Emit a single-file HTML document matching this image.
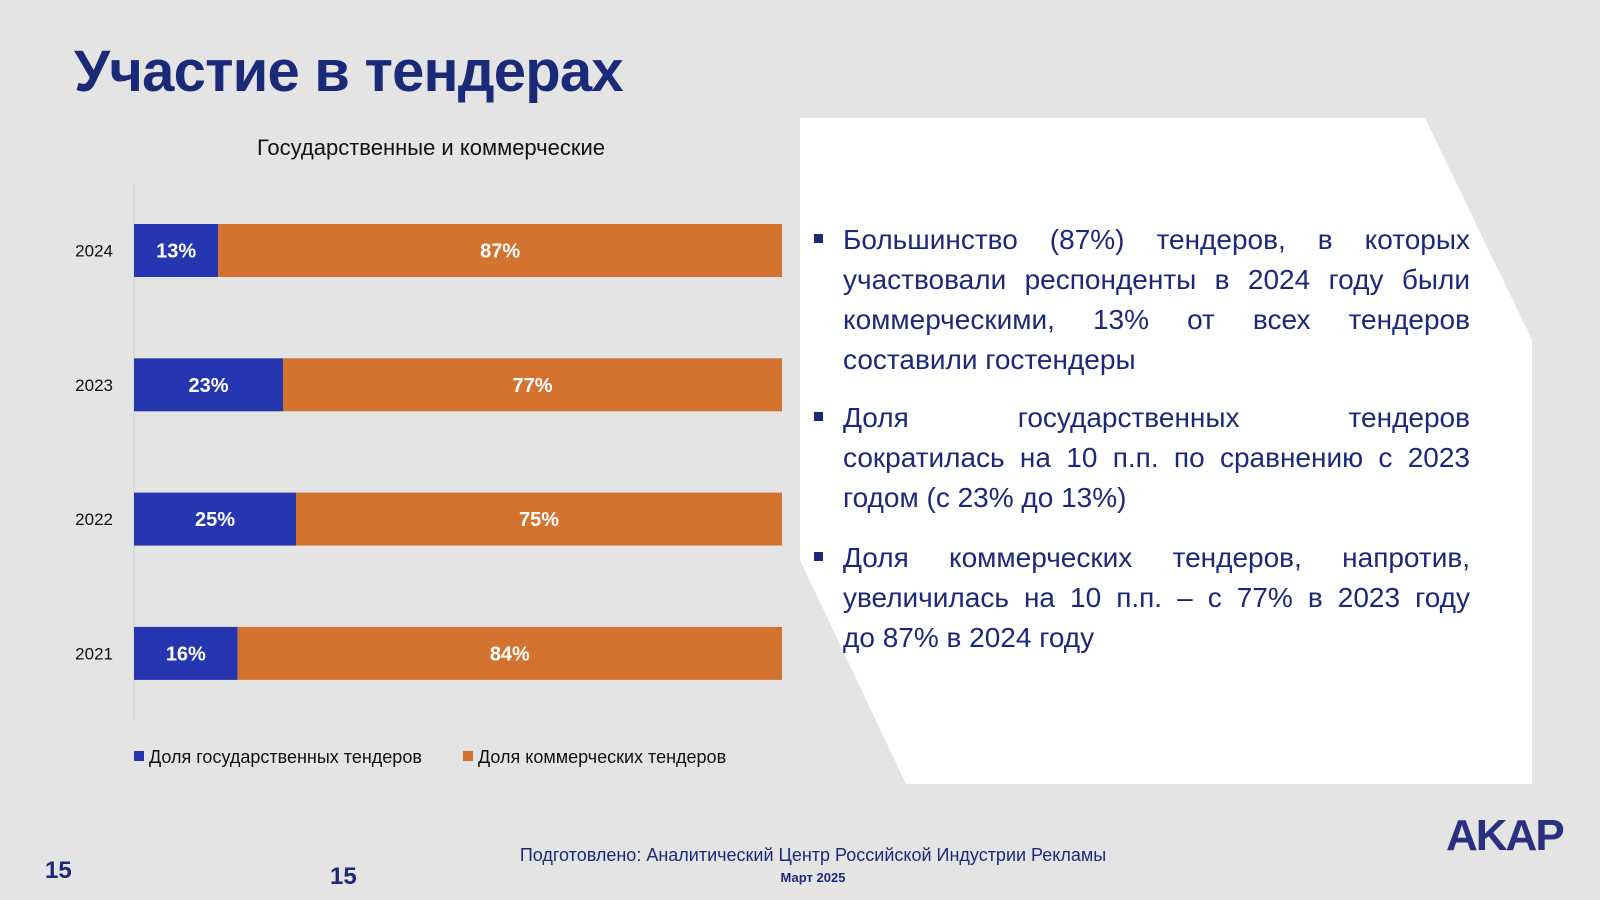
<!DOCTYPE html>
<html><head><meta charset="utf-8"><style>
body{margin:0;width:1600px;height:900px;background:#e4e4e4;position:relative;overflow:hidden;font-family:"Liberation Sans",sans-serif}
.abs{position:absolute}
#title{left:74px;top:38px;font-size:58px;font-weight:bold;color:#1b2a78;letter-spacing:-0.8px}
.line{display:block;text-align:justify;text-align-last:justify;white-space:nowrap}
.last{text-align-last:left}
.bul{position:absolute;left:843px;width:627px;font-size:28px;line-height:40px;color:#1b2a78}
.sq{position:absolute;left:-29px;top:14px;width:9px;height:9px;background:#1b2a78}
</style></head><body>
<div class="abs" id="title">Участие в тендерах</div>
<svg class="abs" style="left:0;top:0" width="1600" height="900">
<polygon points="800,118 1425,118 1532,340 1532,784 906,784 800,560" fill="#fff"/>
<text x="431" y="155" text-anchor="middle" font-size="22" fill="#111">Государственные и коммерческие</text>
<line x1="134" y1="184" x2="134" y2="720" stroke="#cfcfcf"/>
<g id="bars"></g>
<rect x="134" y="751" width="10" height="10" fill="#2636b0"/>
<text x="149" y="763" font-size="18" fill="#111">Доля государственных тендеров</text>
<rect x="463" y="751" width="10" height="10" fill="#d4722f"/>
<text x="478" y="763" font-size="18" fill="#111">Доля коммерческих тендеров</text>
<text x="813" y="861" text-anchor="middle" font-size="18" fill="#1b2a78">Подготовлено: Аналитический Центр Российской Индустрии Рекламы</text>
<text x="813" y="882" text-anchor="middle" font-size="13" font-weight="bold" fill="#1b2a78">Март 2025</text>
<text x="45" y="878" font-size="24" font-weight="bold" fill="#1b2a78">15</text>
<text x="330" y="884" font-size="24" font-weight="bold" fill="#1b2a78">15</text>
<text x="1446" y="850" font-size="44" font-weight="bold" fill="#2a3080" letter-spacing="-2">AKAP</text>
</svg>
<div class="bul" style="top:220px"><span class="sq"></span>
<span class="line">Большинство (87%) тендеров, в которых</span>
<span class="line">участвовали респонденты в 2024 году были</span>
<span class="line">коммерческими, 13% от всех тендеров</span>
<span class="line last">составили гостендеры</span></div>
<div class="bul" style="top:398px"><span class="sq"></span>
<span class="line">Доля государственных тендеров</span>
<span class="line">сократилась на 10 п.п. по сравнению с 2023</span>
<span class="line last">годом (с 23% до 13%)</span></div>
<div class="bul" style="top:538px"><span class="sq"></span>
<span class="line">Доля коммерческих тендеров, напротив,</span>
<span class="line">увеличилась на 10 п.п. – с 77% в 2023 году</span>
<span class="line last">до 87% в 2024 году</span></div>
<script>
const years=["2024","2023","2022","2021"];
const gov=[13,23,25,16];
const com=[87,77,75,84];
const NS="http://www.w3.org/2000/svg";
const g=document.getElementById('bars');
const x=v=>134+v*(782-134)/100;
const rowY=i=>224+i*134.3;
const bh=53;
function mk(t,a){const e=document.createElementNS(NS,t);for(const k in a)e.setAttribute(k,a[k]);g.appendChild(e);return e;}
years.forEach((yr,i)=>{
 const y=rowY(i);
 let t=mk('text',{x:113,y:y+bh/2+6,'text-anchor':'end','font-size':17,fill:'#111'});t.textContent=yr;
 
 
 let r=mk('rect',{x:x(0),y:y,width:x(gov[i])-x(0),height:bh,fill:'#2636b0'});
 
 
 let r2=mk('rect',{x:x(gov[i]),y:y,width:x(gov[i]+com[i])-x(gov[i]),height:bh,fill:'#d4722f'});
 
 
 let l1=mk('text',{x:(x(0)+x(gov[i]))/2,y:y+bh/2+7,'text-anchor':'middle','font-size':20,'font-weight':'bold',fill:'#fff'});l1.textContent=gov[i]+'%';
 
 
 let l2=mk('text',{x:(x(gov[i])+x(gov[i]+com[i]))/2,y:y+bh/2+7,'text-anchor':'middle','font-size':20,'font-weight':'bold',fill:'#fff'});l2.textContent=com[i]+'%';
 
 
});
</script>
</body></html>
